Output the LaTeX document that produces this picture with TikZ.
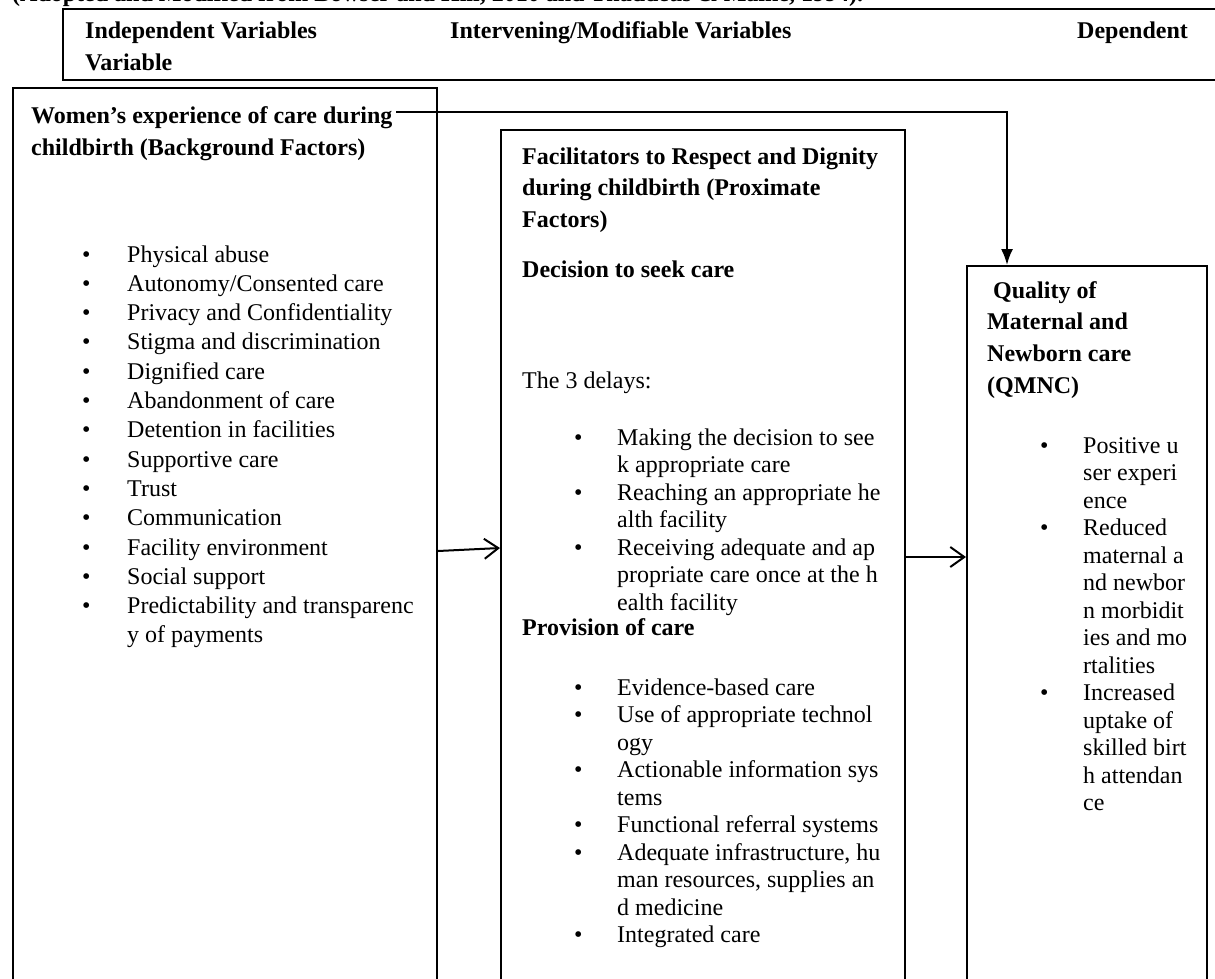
\documentclass[tikz,border=0pt]{standalone}
\usepackage{fontspec}
\setmainfont{Liberation Serif}
\usetikzlibrary{arrows.meta}
\newlength\bulw
\newcommand\Bi[1]{\hbox{\makebox[\bulw][l]{\textbullet}#1}}
\newcommand\Ci[1]{\hbox{\hspace*{\bulw}#1}}
\newcommand\Pl[1]{\hbox{#1}}
\newcommand\Blk[2]{\vtop{\baselineskip=#1pt\lineskiplimit=-100pt\lineskip=0pt #2}}
\tikzset{
  box/.style={draw, line width=2pt, inner sep=0pt, anchor=north west},
  txt/.style={anchor=base west, inner sep=0pt, font=\fontsize{24}{27.5}\selectfont},
  hd/.style={anchor=base west, inner sep=0pt, font=\fontsize{24}{32}\selectfont\bfseries},
  conn/.style={line width=2pt},
  openhead/.style={-{Straight Barb[length=14pt,width=20pt]}},
  fillhead/.style={-{Latex[length=16pt,width=12pt]}}
}
\begin{document}
\begin{tikzpicture}[x=1pt,y=-1pt]
\useasboundingbox (0,0) rectangle (1215,978);
\clip (0,0) rectangle (1215,978);
% caption (clipped at top)
\node[hd] (cap) at (12,1) {(Adopted and Modified from Bowser and Hill, 2010 and Thaddeus \& Maine, 1994).};
% header box
\node[box, minimum width=1200pt, minimum height=71pt] (hdr) at (62,8) {};
\node[hd] (h1) at (85,38) {\Blk{32}{\Pl{Independent Variables}\Pl{Variable}}};
\node[hd] (h2) at (450,38) {Intervening/Modifiable Variables};
\node[hd] (h3) at (1077,38) {Dependent};
% boxes
\node[box, minimum width=424pt, minimum height=920pt] (bg) at (12,87) {};
\node[box, minimum width=404pt, minimum height=870pt] (mid) at (500,129) {};
\node[box, minimum width=240pt, minimum height=740pt] (rt) at (966,265) {};
% left box text
\node[hd] (lt) at (31,123) {\Blk{32}{\Pl{Women’s experience of care during}\Pl{childbirth (Background Factors)}}};
\node[txt] (ll) at (82,262) {\setlength\bulw{45pt}\Blk{29.3}{%
  \Bi{Physical abuse}\Bi{Autonomy/Consented care}\Bi{Privacy and Confidentiality}%
  \Bi{Stigma and discrimination}\Bi{Dignified care}\Bi{Abandonment of care}%
  \Bi{Detention in facilities}\Bi{Supportive care}\Bi{Trust}\Bi{Communication}%
  \Bi{Facility environment}\Bi{Social support}\Bi{Predictability and transparenc}%
  \Ci{y of payments}}};
% middle box text
\node[hd] (mt) at (522,164) {\Blk{31.5}{\Pl{Facilitators to Respect and Dignity}\Pl{during childbirth (Proximate}\Pl{Factors)}}};
\node[hd] (md) at (522,277) {Decision to seek care};
\node[txt] (m3) at (522,388) {The 3 delays:};
\node[txt] (ml) at (574,445) {\setlength\bulw{43pt}\Blk{27.5}{%
  \Bi{Making the decision to see}\Ci{k appropriate care}%
  \Bi{Reaching an appropriate he}\Ci{alth facility}%
  \Bi{Receiving adequate and ap}\Ci{propriate care once at the h}\Ci{ealth facility}}};
\node[hd] (mp) at (522,635) {Provision of care};
\node[txt] (mq) at (574,695) {\setlength\bulw{43pt}\Blk{27.5}{%
  \Bi{Evidence-based care}\Bi{Use of appropriate technol}\Ci{ogy}%
  \Bi{Actionable information sys}\Ci{tems}\Bi{Functional referral systems}%
  \Bi{Adequate infrastructure, hu}\Ci{man resources, supplies an}\Ci{d medicine}%
  \Bi{Integrated care}}};
% right box text
\node[hd] (rtt) at (987,298) {\Blk{31.7}{\Pl{\hspace*{6pt}Quality of}\Pl{Maternal and}\Pl{Newborn care}\Pl{(QMNC)}}};
\node[txt] (rl) at (1040,453) {\setlength\bulw{43pt}\Blk{27.5}{%
  \Bi{Positive u}\Ci{ser experi}\Ci{ence}%
  \Bi{Reduced}\Ci{maternal a}\Ci{nd newbor}\Ci{n morbidit}\Ci{ies and mo}\Ci{rtalities}%
  \Bi{Increased}\Ci{uptake of}\Ci{skilled birt}\Ci{h attendan}\Ci{ce}}};
% connectors
\coordinate (c1) at (396,112);
\coordinate (c2) at (1007,112);
\draw[conn, fillhead] (c1) -- (c2) -- (c2 |- rt.north);
\coordinate (ya) at (0,551);
\coordinate (yb) at (0,548);
\draw[conn, openhead] (bg.east |- ya) -- (mid.west |- yb);
\coordinate (yc) at (0,557);
\draw[conn, openhead] (mid.east |- yc) -- (rt.west |- yc);
\end{tikzpicture}
\end{document}
